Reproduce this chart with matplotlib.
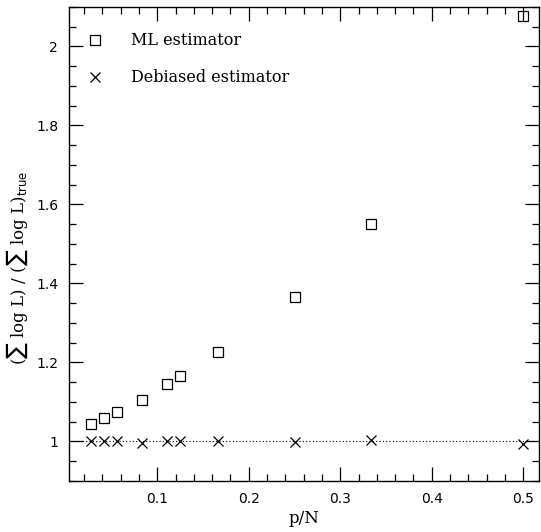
import matplotlib
matplotlib.use("Agg")
import matplotlib.pyplot as plt
from matplotlib.ticker import MultipleLocator

# p/N values and log-likelihood ratios for the two estimators
p_over_n = [1 / 36, 1 / 24, 1 / 18, 1 / 12, 1 / 9, 1 / 8, 1 / 6, 1 / 4, 1 / 3, 1 / 2]
ml_ratio = [1.044, 1.060, 1.075, 1.105, 1.146, 1.165, 1.227, 1.365, 1.550, 2.077]
debiased_ratio = [1.000, 1.000, 1.000, 0.996, 1.001, 1.000, 1.002, 0.999, 1.004, 0.993]

SERIF = "DejaVu Serif"

fig = plt.figure(figsize=(5.41, 5.32), dpi=100)
ax = fig.add_axes([0.128, 0.096, 0.868, 0.891])

ax.axhline(1.0, color="black", ls=(0, (1, 2)), lw=0.8, zorder=1)
ax.plot(p_over_n, ml_ratio, "s", mfc="none", mec="black", ms=7.5, mew=0.9)
ax.plot(p_over_n, debiased_ratio, "x", color="black", ms=7.5, mew=0.9)

ax.set_xlim(0.0038, 0.517)
ax.set_ylim(0.9, 2.1)
ax.xaxis.set_major_locator(MultipleLocator(0.1))
ax.xaxis.set_minor_locator(MultipleLocator(0.02))
ax.yaxis.set_major_locator(MultipleLocator(0.2))
ax.yaxis.set_minor_locator(MultipleLocator(0.05))
ax.xaxis.set_major_formatter(plt.FuncFormatter(lambda v, _: f"{v:g}"))
ax.yaxis.set_major_formatter(plt.FuncFormatter(lambda v, _: f"{v:g}"))
ax.tick_params(which="both", direction="in", top=True, right=True, width=0.9,
               labelsize=10, pad=8)
ax.tick_params(which="major", length=10)
ax.tick_params(which="minor", length=5)
for sp in ax.spines.values():
    sp.set_linewidth(1.0)

ax.set_xlabel("p/N", family=SERIF, fontsize=12, labelpad=3)
ax.set_ylabel("(\u2211 log L) / (\u2211 log L)$_{\\mathrm{true}}$",
              family=SERIF, fontsize=12)
ax.yaxis.set_label_coords(-0.084, 0.45)

# legend drawn by hand as marker + label rows
ax.plot([0.032], [2.015], "s", mfc="none", mec="black", ms=7.5, mew=0.9)
ax.plot([0.032], [1.922], "x", color="black", ms=7.5, mew=0.9)
ax.text(0.071, 2.015, "ML estimator", family=SERIF, fontsize=11.5, va="center")
ax.text(0.071, 1.922, "Debiased estimator", family=SERIF, fontsize=11.5, va="center")

fig.savefig("out.png", dpi=100)
